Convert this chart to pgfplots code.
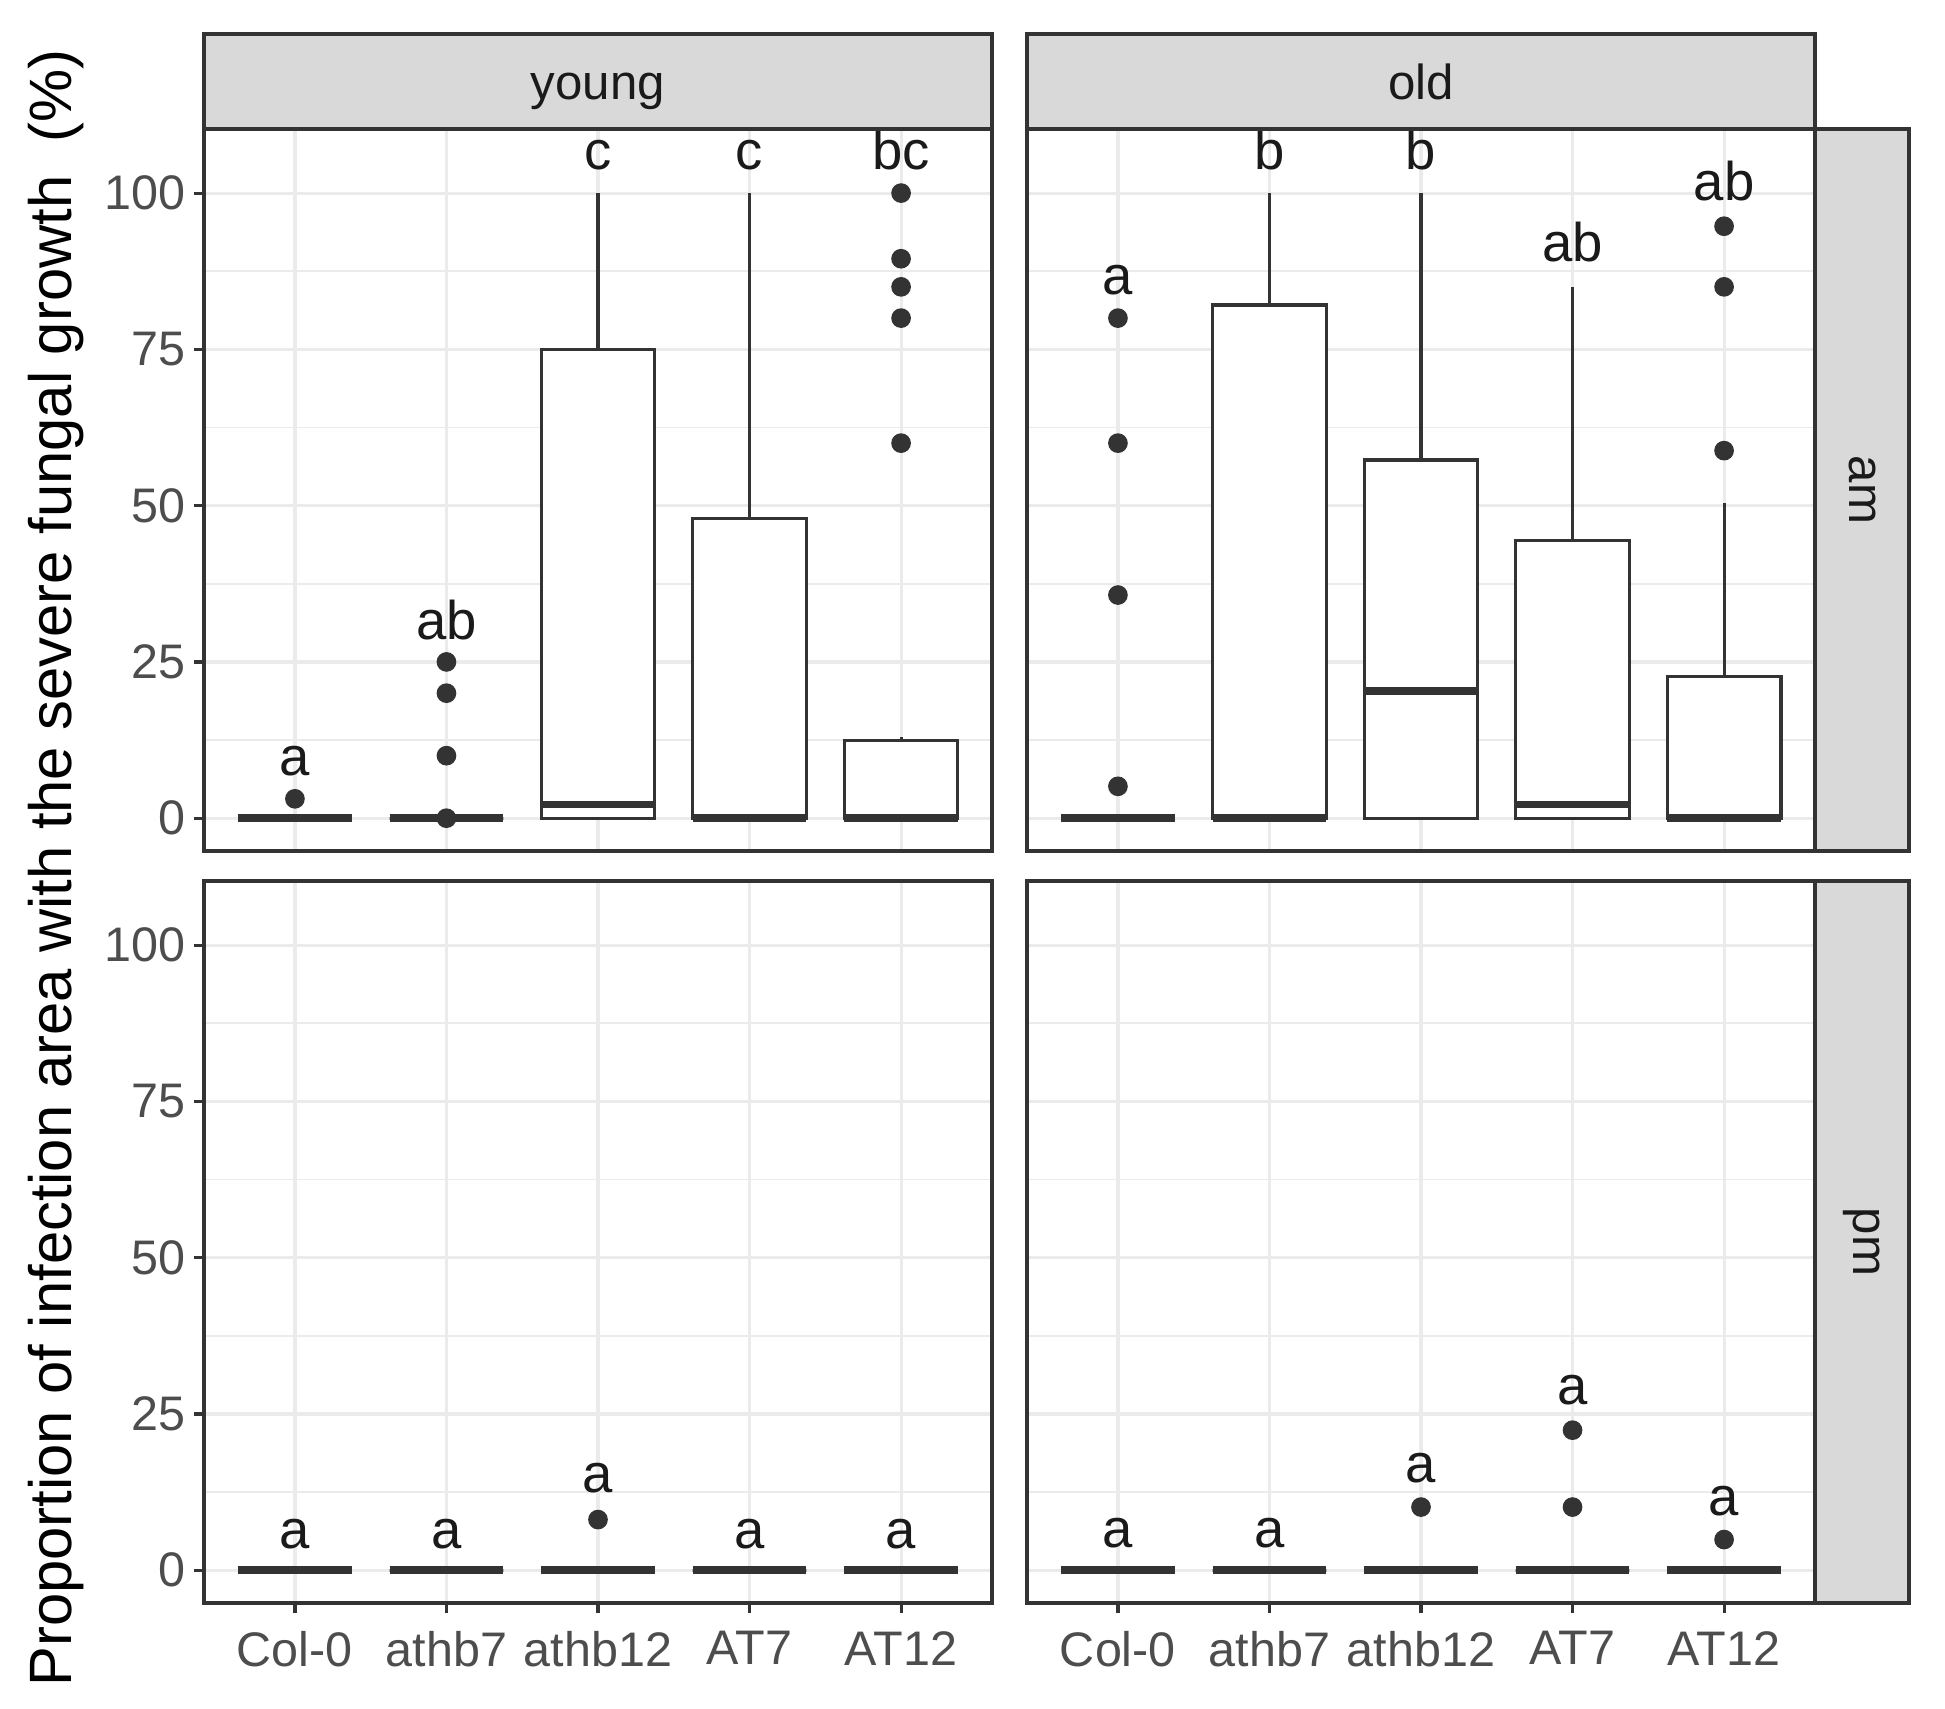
\documentclass[border=0pt]{standalone}
\usepackage{fontspec}
\setmainfont{Liberation Sans}
\usepackage{pgfplots}
\pgfplotsset{compat=1.18}
\usepgfplotslibrary{statistics}

\definecolor{gray10}{HTML}{1A1A1A}
\definecolor{gray20}{HTML}{333333}
\definecolor{gray30}{HTML}{4D4D4D}
\definecolor{gray85}{HTML}{D9D9D9}
\definecolor{gray92}{HTML}{EBEBEB}

\newcommand{\lab}[3]{\node[font=\fontsize{15.5}{18}\selectfont, anchor=base, text=gray10, inner sep=0pt] at (axis cs:#1,#2) {#3};}

\pgfplotsset{
  facet/.style={
    scale only axis, width=78.8mm, height=72.2mm,
    xmin=0.4, xmax=5.6, ymin=-5.25, ymax=110.25,
    xtick={1,2,3,4,5}, ytick={0,25,50,75,100},
    minor ytick={12.5,37.5,62.5,87.5},
    xticklabels={Col-0,athb7,athb12,AT7,AT12},
    grid=both,
    major grid style={draw=gray92, line width=0.9pt},
    minor grid style={draw=gray92, line width=0.5pt},
    axis line style={draw=gray20, line width=0.9pt},
    tick style={draw=gray20, line width=0.9pt},
    major tick length=1mm, minor tick length=0pt,
    tick align=outside, xtick pos=left, ytick pos=left,
    ticklabel style={font=\fontsize{13.8}{16}\selectfont, text=gray30},
    xticklabel style={yshift=-0.6mm},
    yticklabel style={xshift=0.4mm},
    /pgf/number format/assume math mode=true,
    clip=false,
    boxplot/draw direction=y,
    boxplot/box extend=0.75,
    boxplot/whisker extend=0,
    boxplot/every median/.style={line width=2.2pt},
  },
  bx/.style={draw=gray20, fill=white, line width=0.9pt, solid},
  out/.style={only marks, mark=*, mark size=2.6pt, draw=gray20, fill=gray20, mark options={draw=gray20, fill=gray20}},
  top/.style={xticklabels={}, xmajorticks=false},
  right/.style={yticklabels={}, ymajorticks=false},
}

\begin{document}
\begin{tikzpicture}
\path[use as bounding box] (0,0) rectangle (194.5mm,-170.8mm);

% young, am
\begin{axis}[facet, top, name=ya, at={(20.4mm,-12.9mm)}, anchor=north west]
\addplot[bx, boxplot prepared={draw position=1, lower whisker=0, lower quartile=0, median=0, upper quartile=0, upper whisker=0}] coordinates {};
\addplot[bx, boxplot prepared={draw position=2, lower whisker=0, lower quartile=0, median=0, upper quartile=0, upper whisker=0}] coordinates {};
\addplot[bx, boxplot prepared={draw position=3, lower whisker=0, lower quartile=0, median=2.2, upper quartile=75, upper whisker=100}] coordinates {};
\addplot[bx, boxplot prepared={draw position=4, lower whisker=0, lower quartile=0, median=0, upper quartile=48, upper whisker=100}] coordinates {};
\addplot[bx, boxplot prepared={draw position=5, lower whisker=0, lower quartile=0, median=0, upper quartile=12.4, upper whisker=13}] coordinates {};
\addplot[out] coordinates {(1,3.1) (2,25) (2,20) (2,10) (2,0) (5,100) (5,89.5) (5,85) (5,80) (5,60)};
\lab{1}{6.8}{a}
\lab{2}{28.6}{ab}
\lab{3}{103.7}{c}
\lab{4}{103.7}{c}
\lab{5}{103.7}{bc}
\end{axis}

% old, am
\begin{axis}[facet, top, right, name=oa, at={(102.7mm,-12.9mm)}, anchor=north west]
\addplot[bx, boxplot prepared={draw position=1, lower whisker=0, lower quartile=0, median=0, upper quartile=0, upper whisker=0}] coordinates {};
\addplot[bx, boxplot prepared={draw position=2, lower whisker=0, lower quartile=0, median=0, upper quartile=82.1, upper whisker=100}] coordinates {};
\addplot[bx, boxplot prepared={draw position=3, lower whisker=0, lower quartile=0, median=20.4, upper quartile=57.3, upper whisker=100}] coordinates {};
\addplot[bx, boxplot prepared={draw position=4, lower whisker=0, lower quartile=0, median=2.2, upper quartile=44.4, upper whisker=85}] coordinates {};
\addplot[bx, boxplot prepared={draw position=5, lower whisker=0, lower quartile=0, median=0, upper quartile=22.7, upper whisker=50.4}] coordinates {};
\addplot[out] coordinates {(1,80) (1,60) (1,35.7) (1,5.1) (5,94.7) (5,85) (5,58.8)};
\lab{1}{83.7}{a}
\lab{2}{103.7}{b}
\lab{3}{103.7}{b}
\lab{4}{89.1}{ab}
\lab{5}{98.8}{ab}
\end{axis}

% young, pm
\begin{axis}[facet, name=yp, at={(20.4mm,-88.1mm)}, anchor=north west]
\addplot[bx, boxplot prepared={draw position=1, lower whisker=0, lower quartile=0, median=0, upper quartile=0, upper whisker=0}] coordinates {};
\addplot[bx, boxplot prepared={draw position=2, lower whisker=0, lower quartile=0, median=0, upper quartile=0, upper whisker=0}] coordinates {};
\addplot[bx, boxplot prepared={draw position=3, lower whisker=0, lower quartile=0, median=0, upper quartile=0, upper whisker=0}] coordinates {};
\addplot[bx, boxplot prepared={draw position=4, lower whisker=0, lower quartile=0, median=0, upper quartile=0, upper whisker=0}] coordinates {};
\addplot[bx, boxplot prepared={draw position=5, lower whisker=0, lower quartile=0, median=0, upper quartile=0, upper whisker=0}] coordinates {};
\addplot[out] coordinates {(3,8.1)};
\lab{1}{3.5}{a}
\lab{2}{3.5}{a}
\lab{3}{12.5}{a}
\lab{4}{3.5}{a}
\lab{5}{3.5}{a}
\end{axis}

% old, pm
\begin{axis}[facet, right, name=op, at={(102.7mm,-88.1mm)}, anchor=north west]
\addplot[bx, boxplot prepared={draw position=1, lower whisker=0, lower quartile=0, median=0, upper quartile=0, upper whisker=0}] coordinates {};
\addplot[bx, boxplot prepared={draw position=2, lower whisker=0, lower quartile=0, median=0, upper quartile=0, upper whisker=0}] coordinates {};
\addplot[bx, boxplot prepared={draw position=3, lower whisker=0, lower quartile=0, median=0, upper quartile=0, upper whisker=0}] coordinates {};
\addplot[bx, boxplot prepared={draw position=4, lower whisker=0, lower quartile=0, median=0, upper quartile=0, upper whisker=0}] coordinates {};
\addplot[bx, boxplot prepared={draw position=5, lower whisker=0, lower quartile=0, median=0, upper quartile=0, upper whisker=0}] coordinates {};
\addplot[out] coordinates {(3,10.1) (4,22.4) (4,10.1) (5,4.9)};
\lab{1}{3.6}{a}
\lab{2}{3.6}{a}
\lab{3}{14.1}{a}
\lab{4}{26.5}{a}
\lab{5}{8.8}{a}
\end{axis}

% facet strips
\begin{scope}[line width=0.9pt]
\draw[fill=gray85, draw=gray20] (20.4mm,-3.4mm) rectangle (99.2mm,-12.9mm);
\draw[fill=gray85, draw=gray20] (102.7mm,-3.4mm) rectangle (181.5mm,-12.9mm);
\draw[fill=gray85, draw=gray20] (181.5mm,-12.9mm) rectangle (190.9mm,-85.1mm);
\draw[fill=gray85, draw=gray20] (181.5mm,-88.1mm) rectangle (190.9mm,-160.3mm);
\end{scope}
\node[font=\fontsize{14}{16}\selectfont, text=gray10, anchor=base, inner sep=0pt] at (59.8mm,-9.9mm) {young};
\node[font=\fontsize{14}{16}\selectfont, text=gray10, anchor=base, inner sep=0pt] at (142.1mm,-9.9mm) {old};
\node[font=\fontsize{14}{16}\selectfont, text=gray10, rotate=-90] at (186.2mm,-49mm) {am};
\node[font=\fontsize{14}{16}\selectfont, text=gray10, rotate=-90] at (186.2mm,-124.2mm) {pm};

% y axis title
\node[font=\fontsize{17}{20}\selectfont, rotate=90] at (5.6mm,-86.8mm) {Proportion of infection area with the severe fungal growth \ (\%)};
\end{tikzpicture}
\end{document}
